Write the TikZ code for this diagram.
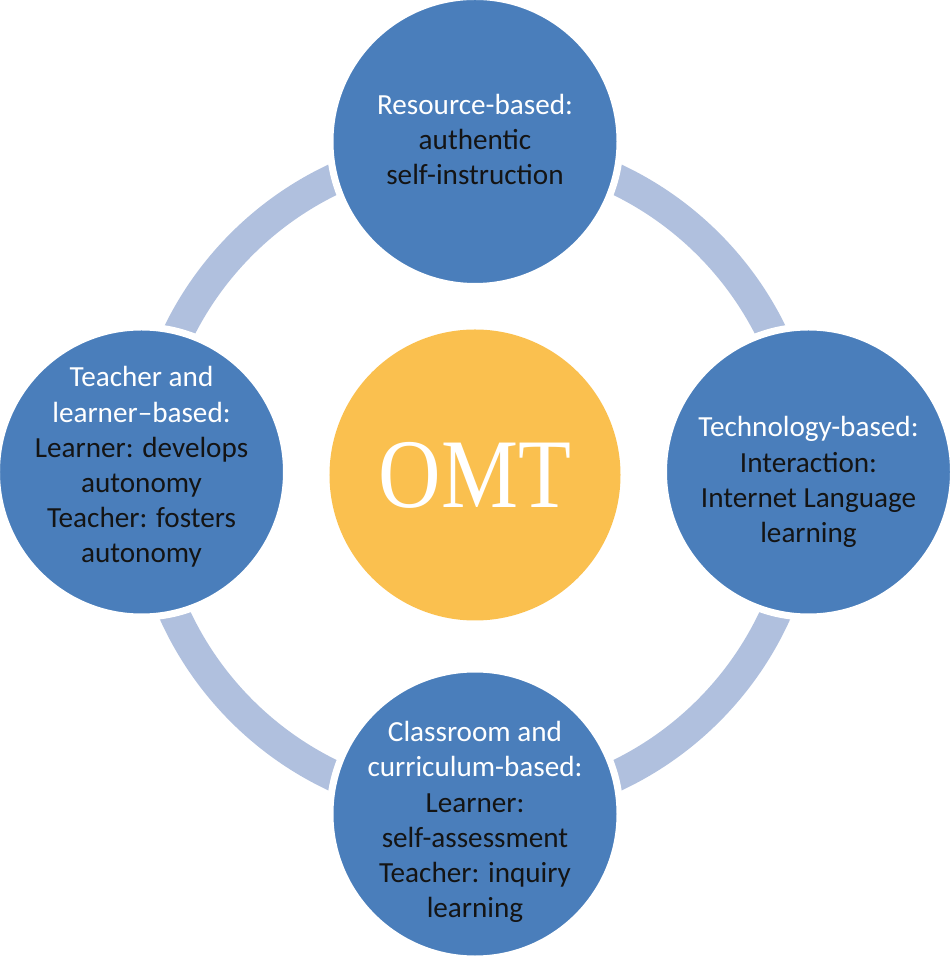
\documentclass[tikz,border=0pt]{standalone}
\usepackage{fontspec}
\setmainfont{Carlito}
\newfontfamily\omtfont{Liberation Serif}
\usepackage{xcolor}
\usetikzlibrary{positioning}
\definecolor{satblue}{HTML}{4A7EBB}
\definecolor{ringblue}{HTML}{B0C0DE}
\definecolor{omtyellow}{HTML}{FAC04F}
\definecolor{darktext}{HTML}{141414}

\begin{document}
\begin{tikzpicture}[
        sat/.style={circle, fill=satblue, draw=white, line width=0.14cm, minimum size=5.8cm, inner sep=0pt},
        hub/.style={circle, fill=omtyellow, minimum size=5.82cm, inner sep=0pt},
        txt/.style={align=center, text=darktext, font=\fontsize{16.6pt}{20pt}\selectfont},
        ringband/.style={ringblue, line width=0.62cm}
    ]
        \useasboundingbox (-9.5,-9.62) rectangle (9.5,9.5);

        % Centre
        \node[hub] (omt) at (0,0) {\omtfont\fontsize{56pt}{60pt}\selectfont\color{white}\scalebox{0.88}[1]{OMT}};

        % Ring behind the four approaches
        \draw[ringband] (omt.center) ++(0,-0.05) circle[radius=6.6];

        % Approaches
        \node[sat] (res) at (0,6.67) {};
        \node[sat] (tech) at (6.67,0.06) {};
        \node[sat] (class) at (0,-6.78) {};
        \node[sat] (teach) at (-6.67,0.06) {};

        \node[txt] (res-txt) at ([yshift=0.04cm]res) {\textcolor{white}{Resource-based:}\\authentic\\self-instruction};
        \node[txt] (tech-txt) at ([yshift=-0.2cm]tech) {\textcolor{white}{Technology-based:}\\Interaction:\\Internet Language\\learning};
        \node[txt] (class-txt) at ([yshift=-0.16cm]class) {\textcolor{white}{Classroom and}\\\textcolor{white}{curriculum-based:}\\Learner:\\self-assessment\\Teacher: inquiry\\learning};
        \node[txt] (teach-txt) at ([yshift=0.1cm]teach) {\textcolor{white}{Teacher and}\\\textcolor{white}{learner–based:}\\Learner: develops\\autonomy\\Teacher: fosters\\autonomy};
    \end{tikzpicture}
\end{document}
